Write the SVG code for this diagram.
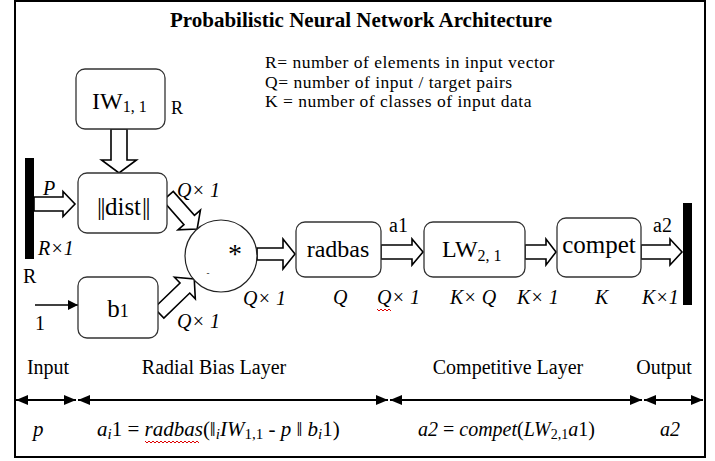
<svg xmlns="http://www.w3.org/2000/svg" width="715" height="461" viewBox="0 0 715 461">
<defs>
<style>
text{font-family:"Liberation Serif","Times New Roman",serif;fill:#000}
.box{fill:#fff;stroke:#333;stroke-width:1.3}
.ha{fill:#fff;stroke:#000;stroke-width:1.6;stroke-linejoin:miter}
.it{font-style:italic}
.lab{font-size:20px;font-style:italic}
.bt{font-size:24px}
.sub{font-size:16px}
.leg{font-size:17.5px;letter-spacing:0.5px}
.sq{fill:none;stroke:#d00;stroke-width:1}
</style>
<marker id="ah" viewBox="0 0 10 10" refX="10" refY="5" markerWidth="10" markerHeight="10" markerUnits="userSpaceOnUse" orient="auto-start-reverse">
<path d="M0,0 L10,5 L0,10 z" fill="#000"/>
</marker>
<marker id="ah2" viewBox="0 0 12 10" refX="12" refY="5" markerWidth="12" markerHeight="10" markerUnits="userSpaceOnUse" orient="auto-start-reverse">
<path d="M0,0 L12,5 L0,10 z" fill="#000"/>
</marker>
</defs>
<rect x="0" y="0" width="715" height="461" fill="#fff"/>
<rect x="15" y="1" width="690" height="456" fill="none" stroke="#000" stroke-width="2"/>

<text x="361" y="27" text-anchor="middle" font-size="21" font-weight="bold">Probabilistic Neural Network Architecture</text>
<g id="legend">
<text x="265" y="68" class="leg">R= number of elements in input vector</text>
<text x="265" y="87.5" class="leg">Q= number of input / target pairs</text>
<text x="265" y="107" class="leg">K = number of classes of input data</text>
</g>

<g id="connectors">
<polygon class="ha" transform="translate(119,129) rotate(90)" points="0,-8 31,-8 31,-17.5 44,0 31,17.5 31,8 0,8"/>
<polygon class="ha" transform="translate(34,204)" points="0,-7 29,-7 29,-12.5 41,0 29,12.5 29,7 0,7"/>
<polygon class="ha" transform="translate(168,196) rotate(48.5)" points="0,-7 32,-7 32,-15 44,0 32,15 32,7 0,7"/>
<polygon class="ha" transform="translate(159,313) rotate(-44)" points="0,-7 36,-7 36,-15 49,0 36,15 36,7 0,7"/>
<polygon class="ha" transform="translate(257,254)" points="0,-6 26,-6 26,-15 38,0 26,15 26,6 0,6"/>
<polygon class="ha" transform="translate(381,252)" points="0,-7 31,-7 31,-13 42,0 31,13 31,7 0,7"/>
<polygon class="ha" transform="translate(525,252)" points="0,-7 21,-7 21,-13 31,0 21,13 21,7 0,7"/>
<polygon class="ha" transform="translate(641,252)" points="0,-7 29,-7 29,-13 41,0 29,13 29,7 0,7"/>
<line x1="35" y1="305" x2="78" y2="305" stroke="#000" stroke-width="1.5" marker-end="url(#ah)"/>
<line x1="16" y1="400" x2="76" y2="400" stroke="#000" stroke-width="2" marker-start="url(#ah2)" marker-end="url(#ah2)"/>
<line x1="78" y1="400" x2="388" y2="400" stroke="#000" stroke-width="2" marker-start="url(#ah2)" marker-end="url(#ah2)"/>
<line x1="390" y1="400" x2="642" y2="400" stroke="#000" stroke-width="2" marker-start="url(#ah2)" marker-end="url(#ah2)"/>
<line x1="644" y1="400" x2="703" y2="400" stroke="#000" stroke-width="2" marker-start="url(#ah2)" marker-end="url(#ah2)"/>
</g>

<g id="input-bar">
<rect x="25" y="158" width="9" height="101" fill="#000"/>
<text x="43" y="195" class="lab">P</text>
<text x="38" y="255" class="lab">R×1</text>
<text x="23" y="283" font-size="20">R</text>
<text x="35" y="330" font-size="20">1</text>
</g>

<g id="IW">
<rect class="box" x="76" y="69" width="89" height="60" rx="9"/>
<text x="92" y="109" class="bt">IW<tspan class="sub" dy="3">1, 1</tspan></text>
<text x="171" y="114" font-size="18">R</text>
</g>

<g id="dist">
<rect class="box" x="78" y="173" width="89" height="60" rx="9"/>
<text x="123" y="215" text-anchor="middle" font-size="25"><tspan letter-spacing="-1.5">||</tspan><tspan dx="1">dist</tspan><tspan dx="1" letter-spacing="-1.5">||</tspan></text>
</g>

<g id="b1">
<rect class="box" x="78" y="277" width="80" height="61" rx="9"/>
<text x="118" y="317" text-anchor="middle" font-size="25">b<tspan font-size="18">1</tspan></text>
</g>

<g id="sum">
<circle cx="221" cy="256" r="36" fill="#fff" stroke="#222" stroke-width="1.2"/>
<text x="235" y="263" text-anchor="middle" font-size="28">*</text>
<text x="208" y="276" text-anchor="middle" font-size="9">-</text>
<text x="177" y="197" class="lab">Q× 1</text>
<text x="243" y="305" class="lab">Q× 1</text>
<text x="177" y="328" class="lab">Q× 1</text>
</g>

<g id="radbas">
<rect class="box" x="296" y="222" width="85" height="55" rx="9"/>
<text x="338" y="257" text-anchor="middle" class="bt">radbas</text>
<text x="389" y="232" font-size="20">a1</text>
</g>

<g id="LW">
<rect class="box" x="424" y="222" width="101" height="55" rx="9"/>
<text x="442" y="257" class="bt">LW<tspan class="sub" dy="4">2, 1</tspan></text>
</g>

<g id="compet">
<rect class="box" x="557" y="218" width="84" height="59" rx="9"/>
<text x="599" y="253" text-anchor="middle" font-size="25">compet</text>
<text x="653" y="232" font-size="20">a2</text>
</g>

<g id="output-bar">
<rect x="683" y="203" width="9" height="102" fill="#000"/>
</g>

<g id="dims">
<text x="333" y="304" class="lab">Q</text>
<text x="377" y="304" class="lab">Q× 1</text>
<path class="sq" d="M377,309 l2,2 l2,-2 l2,2 l2,-2 l2,2 l2,-2 l2,2"/>
<text x="450" y="304" class="lab">K× Q</text>
<text x="517" y="304" class="lab">K× 1</text>
<text x="595" y="304" class="lab">K</text>
<text x="642" y="304" class="lab">K×1</text>
</g>

<g id="captions">
<text x="48" y="374" text-anchor="middle" font-size="20">Input</text>
<text x="214" y="374" text-anchor="middle" font-size="20">Radial Bias Layer</text>
<text x="508" y="374" text-anchor="middle" font-size="20">Competitive Layer</text>
<text x="664" y="374" text-anchor="middle" font-size="20">Output</text>
</g>

<g id="formulas">
<text x="33" y="436" font-size="21" class="it">p</text>
<text x="97" y="436" font-size="21"><tspan class="it">a</tspan><tspan class="it" font-size="15" dy="3">i</tspan><tspan dy="-3">1 = </tspan><tspan class="it">radbas</tspan>(‖<tspan class="it" font-size="15" dy="3">i</tspan><tspan class="it" dy="-3">IW</tspan><tspan font-size="15" dy="3">1,1</tspan><tspan dy="-3"> - </tspan><tspan class="it">p</tspan> ‖ <tspan class="it">b</tspan><tspan class="it" font-size="15" dy="3">i</tspan><tspan dy="-3">1)</tspan></text>
<path class="sq" d="M145,441 l2,2 l2,-2 l2,2 l2,-2 l2,2 l2,-2 l2,2 l2,-2 l2,2 l2,-2 l2,2 l2,-2 l2,2 l2,-2 l2,2 l2,-2 l2,2 l2,-2 l2,2 l2,-2 l2,2 l2,-2 l2,2 l2,-2 l2,2 l2,-2 l2,2"/>
<text x="418" y="436" font-size="20"><tspan class="it">a2</tspan> = <tspan class="it">compet</tspan>(<tspan class="it">LW</tspan><tspan font-size="14" dy="3">2,1</tspan><tspan class="it" dy="-3">a</tspan>1)</text>
<text x="660" y="436" font-size="20" class="it">a2</text>
</g>
</svg>
